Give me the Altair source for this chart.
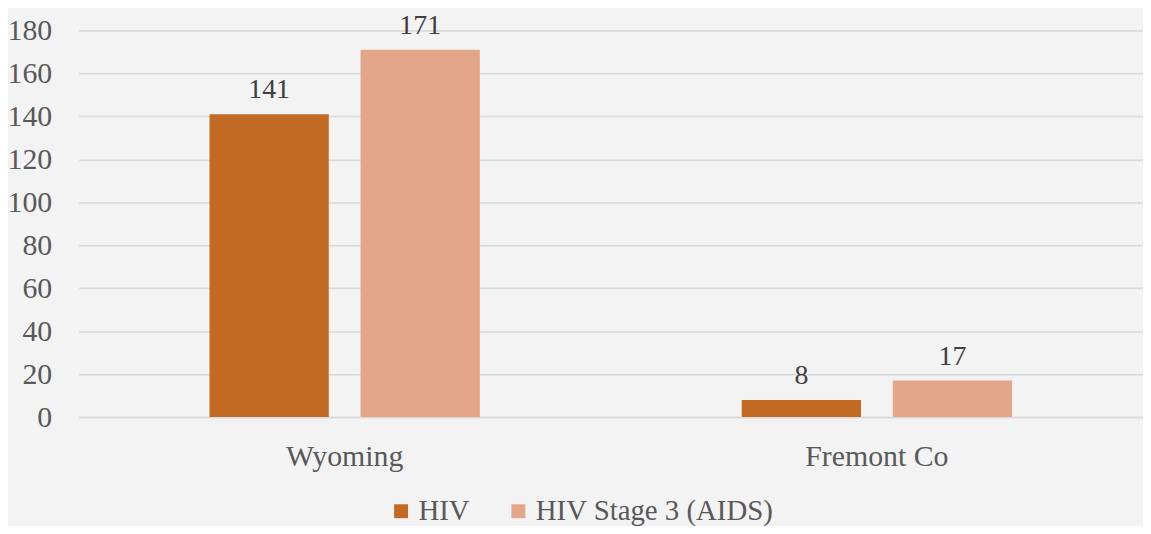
import altair as alt
import pandas as pd

categories = ["Wyoming", "Fremont Co"]
series = ["HIV", "HIV Stage 3 (AIDS)"]
hiv = [141, 8]
aids = [171, 17]
colors = ["#C26A24", "#E3A689"]

rows = []
for i, c in enumerate(categories):
    rows.append({"region": c, "series": series[0], "value": hiv[i]})
    rows.append({"region": c, "series": series[1], "value": aids[i]})
df = pd.DataFrame(rows)

FONT = "Liberation Serif"

base = alt.Chart(df).encode(
    x=alt.X("region:N", sort=categories, title=None,
            scale=alt.Scale(paddingInner=0.492, paddingOuter=0.246),
            axis=alt.Axis(labelAngle=0, ticks=False, labelPadding=25,
                          labelFontSize=30, labelColor="#595959", labelFont=FONT,
                          domainColor="#d9d9d9", domainWidth=1.5, grid=False)),
    xOffset=alt.XOffset("series:N", sort=series,
                        scale=alt.Scale(paddingInner=0.2105, paddingOuter=0)),
)

bars = base.mark_bar().encode(
    y=alt.Y("value:Q", title=None,
            scale=alt.Scale(domain=[0, 180], nice=False),
            axis=alt.Axis(values=list(range(0, 181, 20)), ticks=False, domain=False,
                          labelPadding=27, labelFontSize=30, labelColor="#595959",
                          labelFont=FONT, gridColor="#d9d9d9", gridWidth=1.5)),
    color=alt.Color("series:N", sort=series,
                    scale=alt.Scale(domain=series, range=colors),
                    legend=alt.Legend(title=None, orient="none", direction="horizontal",
                                      legendX=310, legendY=469,
                                      symbolType="square", symbolSize=196,
                                      symbolStrokeWidth=0, labelFontSize=29,
                                      labelFont=FONT, labelColor="#595959",
                                      columnPadding=34, labelOffset=3,
                                      labelLimit=400)),
)

labels = base.mark_text(font=FONT, fontSize=28, color="#404040",
                        baseline="alphabetic", dy=-16).encode(
    y="value:Q",
    text="value:Q",
)

chart = (bars + labels).properties(
    width=1071, height=389,
    background="#f3f3f3",
    padding={"left": 71, "top": 21, "right": 0, "bottom": 108},
    autosize=alt.AutoSizeParams(type="none"),
).configure_view(stroke=None)

chart.save("out.html", embed_options={"renderer": "svg", "actions": False})
